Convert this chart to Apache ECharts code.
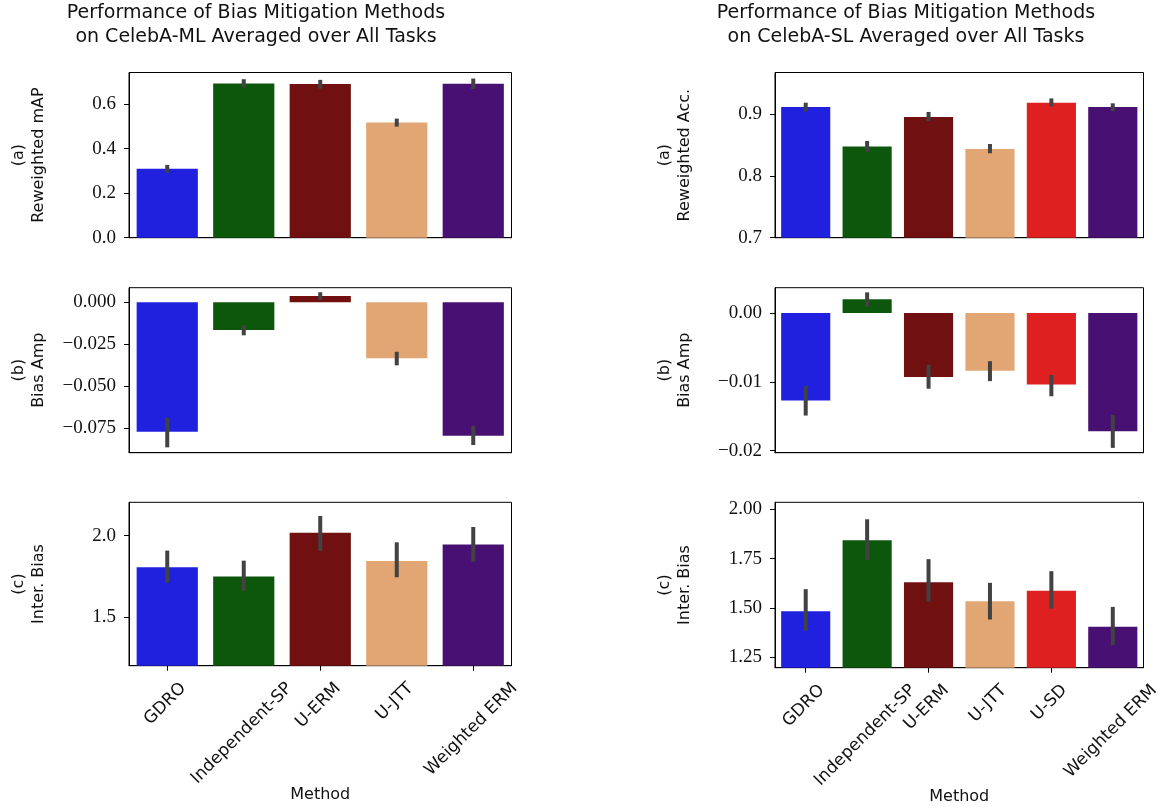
<!DOCTYPE html>
<html>
<head>
<meta charset="utf-8">
<script src="https://cdn.jsdelivr.net/npm/echarts@6/dist/echarts.min.js"></script>
<style>
html,body{margin:0;padding:0;background:#fff;}
#chart{width:1173px;height:810px;}
</style>
</head>
<body>
<div id="chart"></div>
<script>
// ---------- DATA ----------
const METHODS_ML = ['GDRO', 'Independent-SP', 'U-ERM', 'U-JTT', 'Weighted ERM'];
const METHODS_SL = ['GDRO', 'Independent-SP', 'U-ERM', 'U-JTT', 'U-SD', 'Weighted ERM'];
const COLORS_ML = ['#2020DF', '#0D570D', '#701010', '#E1A673', '#481072'];
const COLORS_SL = ['#2020DF', '#0D570D', '#701010', '#E1A673', '#DF2020', '#481072'];

// CelebA-ML
const ML_MAP    = [0.310, 0.693, 0.690, 0.517, 0.691];
const ML_MAP_LO = [0.292, 0.675, 0.670, 0.499, 0.668];
const ML_MAP_HI = [0.327, 0.712, 0.709, 0.535, 0.715];
const ML_BA     = [-0.0772, -0.0165, 0.0038, -0.0334, -0.0796];
const ML_BA_LO  = [-0.0865, -0.0197, 0.0014, -0.0376, -0.0851];
const ML_BA_HI  = [-0.0689, -0.0137, 0.0060, -0.0295, -0.0736];
const ML_IB     = [1.806, 1.748, 2.017, 1.844, 1.945];
const ML_IB_LO  = [1.710, 1.658, 1.906, 1.744, 1.840];
const ML_IB_HI  = [1.908, 1.846, 2.121, 1.959, 2.053];

// CelebA-SL
const SL_ACC    = [0.912, 0.848, 0.896, 0.844, 0.919, 0.912];
const SL_ACC_LO = [0.905, 0.839, 0.889, 0.837, 0.913, 0.905];
const SL_ACC_HI = [0.919, 0.857, 0.904, 0.852, 0.926, 0.918];
const SL_BA     = [-0.0127, 0.0020, -0.0093, -0.0084, -0.0104, -0.0172];
const SL_BA_LO  = [-0.0149, 0.0009, -0.0110, -0.0099, -0.0121, -0.0196];
const SL_BA_HI  = [-0.0106, 0.0030, -0.0075, -0.0070, -0.0090, -0.0148];
const SL_IB     = [1.483, 1.843, 1.630, 1.534, 1.587, 1.404];
const SL_IB_LO  = [1.384, 1.743, 1.532, 1.441, 1.496, 1.311];
const SL_IB_HI  = [1.595, 1.949, 1.747, 1.627, 1.686, 1.505];

// Axis ranges and tick labels
const RANGE_ML_MAP = [0, 0.742];
const RANGE_ML_BA  = [-0.0897, 0.0087];
const RANGE_ML_IB  = [1.2, 2.205];
const RANGE_SL_ACC = [0.7, 0.968];
const RANGE_SL_BA  = [-0.0203, 0.00368];
const RANGE_SL_IB  = [1.197, 2.035];
const TICKS_ML_MAP = [0, 0.2, 0.4, 0.6];
const TICKS_ML_BA  = [-0.075, -0.05, -0.025, 0];
const TICKS_ML_IB  = [1.5, 2.0];
const TICKS_SL_ACC = [0.7, 0.8, 0.9];
const TICKS_SL_BA  = [-0.02, -0.01, 0];
const TICKS_SL_IB  = [1.25, 1.5, 1.75, 2.0];

const TITLE_ML = 'Performance of Bias Mitigation Methods\non CelebA-ML Averaged over All Tasks';
const TITLE_SL = 'Performance of Bias Mitigation Methods\non CelebA-SL Averaged over All Tasks';

// ---------- LAYOUT ----------
const SANS = '"DejaVu Sans", sans-serif';
const SERIF = '"Liberation Serif", serif';
const COLS = [{left: 129, width: 382.5}, {left: 775, width: 368.5}];
const ROWS = [[72.5, 165.2], [287.7, 165], [502.3, 163.4]];
const ROWS_R = [[72.5, 165.2], [287.7, 165], [502.3, 165.4]];

const panels = [
  {col:0,row:0,cats:METHODS_ML,colors:COLORS_ML,v:ML_MAP,lo:ML_MAP_LO,hi:ML_MAP_HI,range:RANGE_ML_MAP,ticks:TICKS_ML_MAP,dec:1,name:'(a)\nReweighted mAP'},
  {col:0,row:1,cats:METHODS_ML,colors:COLORS_ML,v:ML_BA,lo:ML_BA_LO,hi:ML_BA_HI,range:RANGE_ML_BA,ticks:TICKS_ML_BA,dec:3,name:'(b)\nBias Amp'},
  {col:0,row:2,cats:METHODS_ML,colors:COLORS_ML,v:ML_IB,lo:ML_IB_LO,hi:ML_IB_HI,range:RANGE_ML_IB,ticks:TICKS_ML_IB,dec:1,name:'(c)\nInter. Bias'},
  {col:1,row:0,cats:METHODS_SL,colors:COLORS_SL,v:SL_ACC,lo:SL_ACC_LO,hi:SL_ACC_HI,range:RANGE_SL_ACC,ticks:TICKS_SL_ACC,dec:1,name:'(a)\nReweighted Acc.'},
  {col:1,row:1,cats:METHODS_SL,colors:COLORS_SL,v:SL_BA,lo:SL_BA_LO,hi:SL_BA_HI,range:RANGE_SL_BA,ticks:TICKS_SL_BA,dec:2,name:'(b)\nBias Amp'},
  {col:1,row:2,cats:METHODS_SL,colors:COLORS_SL,v:SL_IB,lo:SL_IB_LO,hi:SL_IB_HI,range:RANGE_SL_IB,ticks:TICKS_SL_IB,dec:2,name:'(c)\nInter. Bias'}
];

const XL_FONT = 17;
const measureCtx = document.createElement('canvas').getContext('2d');
measureCtx.font = XL_FONT + 'px "DejaVu Sans"';
function textW(t) { return measureCtx.measureText(t).width; }

function fmt(v, d) {
  return (v < -1e-12 ? '\u2212' : '') + Math.abs(v).toFixed(d);
}

const grids = [], xAxes = [], yAxes = [], series = [];
panels.forEach((p, k) => {
  const rows = p.col === 0 ? ROWS : ROWS_R;
  grids.push({
    left: COLS[p.col].left, width: COLS[p.col].width,
    top: rows[p.row][0], height: rows[p.row][1],
    show: true, borderColor: '#000', borderWidth: 1, backgroundColor: 'transparent'
  });
  const bottom = p.row === 2;
  xAxes.push({
    type: 'category', gridIndex: k, data: p.cats,
    axisLine: {show: true, onZero: false, lineStyle: {color: '#000', width: 1}},
    axisTick: {show: bottom, alignWithLabel: true, length: 5, lineStyle: {color: '#000', width: 1}},
    axisLabel: {show: false},
    splitLine: {show: false},
    name: bottom ? 'Method' : '',
    nameLocation: 'middle', nameGap: 121,
    nameTextStyle: {fontFamily: SANS, fontSize: 16, color: '#111'}
  });
  yAxes.push({
    type: 'value', gridIndex: k, min: p.range[0], max: p.range[1],
    axisLine: {show: true, onZero: false, lineStyle: {color: '#000', width: 1}},
    axisTick: {show: true, length: 5, customValues: p.ticks, lineStyle: {color: '#000', width: 1}},
    axisLabel: {show: true, customValues: p.ticks, margin: 13, fontFamily: SERIF, fontSize: 19, color: '#111',
      formatter: (v) => fmt(v, p.dec)},
    splitLine: {show: false},
    name: p.name, nameLocation: 'middle', nameRotate: 90, nameGap: 80,
    nameTextStyle: {fontFamily: SANS, fontSize: 16, lineHeight: 20, color: '#111', align: 'center'}
  });
  series.push({
    type: 'bar', xAxisIndex: k, yAxisIndex: k,
    data: p.v, barCategoryGap: '20%',
    itemStyle: {color: (pp) => p.colors[pp.dataIndex]},
    emphasis: {disabled: true}, z: 2
  });
  series.push({
    type: 'custom', xAxisIndex: k, yAxisIndex: k, z: 3, silent: true,
    data: p.cats.map((c, i) => [i, p.lo[i], p.hi[i]]),
    encode: {x: 0, y: [1, 2]},
    renderItem: (params, api) => {
      const a = api.coord([api.value(0), api.value(1)]);
      const b = api.coord([api.value(0), api.value(2)]);
      return {type: 'line', shape: {x1: a[0], y1: a[1], x2: b[0], y2: b[1]},
        style: {stroke: '#424242', lineWidth: 4}};
    }
  });
  if (bottom) {
    series.push({
      type: 'custom', xAxisIndex: k, yAxisIndex: k, z: 4, silent: true,
      data: p.cats.map((c, i) => [i, p.range[0]]),
      encode: {x: 0, y: 1},
      renderItem: (params, api) => {
        const i = api.value(0);
        const pt = api.coord([i, api.value(1)]);
        const txt = p.cats[i];
        const W = textW(txt), H = XL_FONT * 1.17;
        const cy = pt[1] + 13 + 0.3536 * (W + H);
        return {type: 'text', x: pt[0] - 2, y: cy, rotation: Math.PI / 4,
          style: {text: txt, x: 0, y: 0, align: 'center', verticalAlign: 'middle',
            fontFamily: 'DejaVu Sans', fontSize: XL_FONT, fill: '#111'}};
      }
    });
  }
});

const chart = echarts.init(document.getElementById('chart'), null, {renderer: 'canvas'});
chart.setOption({
  backgroundColor: '#fff',
  animation: false,
  title: [
    {text: TITLE_ML, left: 256, top: 1, padding: 0, textAlign: 'center',
      textStyle: {fontFamily: SANS, fontSize: 19, fontWeight: 'normal', lineHeight: 24, color: '#111'}},
    {text: TITLE_SL, left: 906, top: 1, padding: 0, textAlign: 'center',
      textStyle: {fontFamily: SANS, fontSize: 19, fontWeight: 'normal', lineHeight: 24, color: '#111'}}
  ],
  grid: grids, xAxis: xAxes, yAxis: yAxes, series: series
});
</script>
</body>
</html>
